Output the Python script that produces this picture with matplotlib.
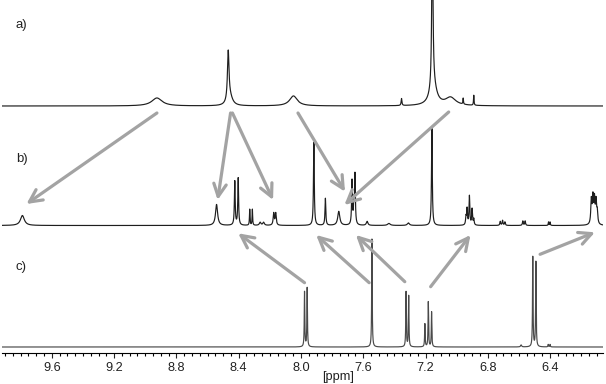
import numpy as np
import matplotlib
matplotlib.use("Agg")
import matplotlib.pyplot as plt
from matplotlib.ticker import MultipleLocator, FormatStrFormatter

plt.rcParams['font.family'] = ['Liberation Sans', 'DejaVu Sans']

# ---- peak lists: (ppm, height, half-width ppm) ----
peaks_a_ppm = [8.925, 8.467, 8.455, 8.048, 7.354, 7.156, 7.150, 7.039, 6.958, 6.890]
peaks_a_h   = [8.0,   50.0,  8.0,   10.0,  7.0,   190.0, 20.0,  8.0,   6.0,   10.0]
peaks_a_w   = [0.040, 0.006, 0.020, 0.030, 0.003, 0.004, 0.025, 0.040, 0.002, 0.002]

peaks_b_ppm = [9.789, 8.542, 8.425, 8.403, 8.329, 8.312, 8.262, 8.240, 8.175, 8.162,
               7.917, 7.843, 7.757, 7.672, 7.660, 7.653, 7.575, 7.435, 7.310,
               7.159, 6.940, 6.933, 6.918, 6.901, 6.890,
               6.720, 6.705, 6.690, 6.575, 6.560, 6.410, 6.400,
               6.135, 6.125, 6.115, 6.105, 6.097]
peaks_b_h   = [10.0, 21.0, 44.0, 47.0, 16.0, 16.0, 3.0, 3.0, 12.0, 12.0,
               83.0, 27.0, 14.0, 44.0, 20.0, 49.0, 4.0, 2.0, 2.5,
               97.0, 8.0, 16.0, 29.0, 16.0, 6.0,
               4.0, 5.0, 3.5, 4.5, 4.5, 3.5, 3.5,
               24.0, 26.0, 24.0, 22.0, 12.0]
peaks_b_w   = [0.015, 0.008, 0.003, 0.003, 0.002, 0.002, 0.006, 0.006, 0.004, 0.004,
               0.003, 0.003, 0.008, 0.003, 0.003, 0.003, 0.006, 0.010, 0.008,
               0.003, 0.003, 0.003, 0.003, 0.003, 0.003,
               0.003, 0.003, 0.003, 0.003, 0.003, 0.002, 0.002,
               0.004, 0.004, 0.004, 0.004, 0.004]

peaks_c_ppm = [7.977, 7.960, 7.544, 7.325, 7.308, 7.204, 7.182, 7.161,
               6.586, 6.511, 6.491, 6.412, 6.400]
peaks_c_h   = [55.0, 59.0, 108.0, 55.0, 51.0, 23.0, 45.0, 35.0,
               2.0, 90.0, 85.0, 2.5, 2.5]
peaks_c_w   = [0.002, 0.002, 0.002, 0.002, 0.002, 0.002, 0.002, 0.002,
               0.004, 0.002, 0.002, 0.002, 0.002]

# tick labels / axis
x_range = (9.92, 6.06)
xlabel = "[ppm]"
panel_labels = ["a)", "b)", "c)"]

# arrows: (ppm_from, y_from, ppm_to, y_to) in axis data units
arrows = [
    (8.925, 239.7, 9.763, 148.7),
    (8.452, 239.7, 8.535, 152.7),
    (8.440, 239.7, 8.179, 152.7),
    (8.019, 239.7, 7.717, 161.0),
    (7.051, 240.7, 7.721, 147.7),
    (7.977, 70.0, 8.403, 119.4),
    (7.562, 70.0, 7.902, 117.7),
    (7.333, 71.0, 7.647, 117.7),
    (7.167, 66.0, 6.911, 117.7),
    (6.464, 98.4, 6.112, 120.4),
]

# ---- layout ----
W, H = 606, 384
axis_px = 352.7
offsets = {"a": axis_px - 106.0, "b": axis_px - 225.5, "c": axis_px - 347.0}

fig = plt.figure(figsize=(W / 100, H / 100), dpi=100)
ax = fig.add_axes([2 / W, (H - axis_px) / H, 601 / W, axis_px / H])

x = np.linspace(x_range[0], x_range[1], 40000)


def spectrum(ppms, hs, ws):
    y = np.zeros_like(x)
    for p, h, w in zip(ppms, hs, ws):
        y += h * w ** 2 / ((x - p) ** 2 + w ** 2)
    return y


ax.plot(x, spectrum(peaks_a_ppm, peaks_a_h, peaks_a_w) + offsets["a"], color="#1e1e1e", lw=0.85)
ax.plot(x, spectrum(peaks_b_ppm, peaks_b_h, peaks_b_w) + offsets["b"], color="#1e1e1e", lw=0.85)
ax.plot(x, spectrum(peaks_c_ppm, peaks_c_h, peaks_c_w) + offsets["c"], color="#4a4a4a", lw=0.85)

for x0, y0, x1, y1 in arrows:
    ax.annotate("", xy=(x1, y1), xytext=(x0, y0),
                arrowprops=dict(arrowstyle="->,head_length=0.9,head_width=0.45",
                                lw=2.3, color="#a3a3a3", shrinkA=0, shrinkB=0))

ax.set_xlim(*x_range)
ax.set_ylim(0, axis_px)
for s in ("top", "left", "right"):
    ax.spines[s].set_visible(False)
ax.spines["bottom"].set_linewidth(0.8)
ax.set_yticks([])
ax.xaxis.set_major_locator(MultipleLocator(0.4))
ax.xaxis.set_minor_locator(MultipleLocator(0.05))
ax.xaxis.set_major_formatter(FormatStrFormatter("%.1f"))
ax.tick_params(axis="x", which="major", direction="out", length=3.5, width=0.8,
               labelsize=9.2, pad=3.0, colors="#222222")
ax.tick_params(axis="x", which="minor", direction="out", length=2.5, width=0.8)
ax.patch.set_visible(False)

fig.text(338 / W, 1 - 377 / H, xlabel, ha="center", va="center", fontsize=9.2, color="#222222")
for lab, py in zip(panel_labels, [25, 159, 267]):
    fig.text(16 / W, 1 - py / H, lab, ha="left", va="center", fontsize=9.5, color="#222222")

fig.savefig("out.png", dpi=100)
